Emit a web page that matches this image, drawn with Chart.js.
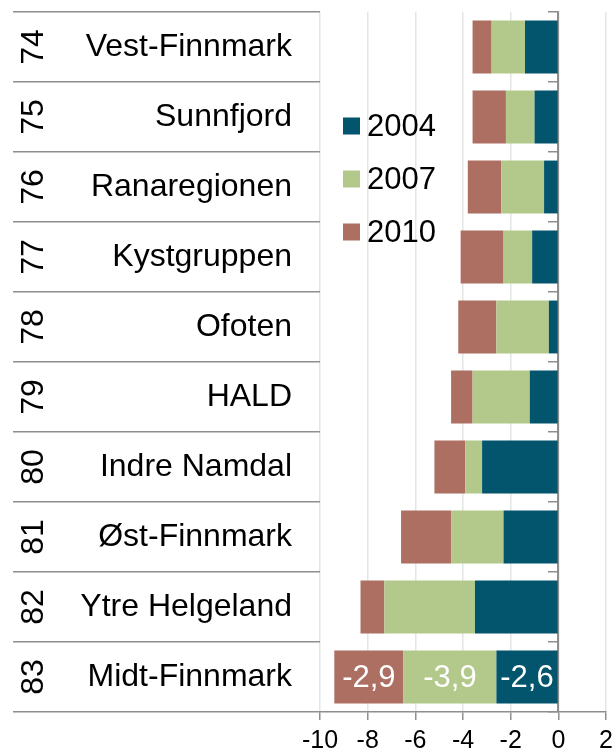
<!DOCTYPE html>
<html>
<head>
<meta charset="utf-8">
<script src="https://cdn.jsdelivr.net/npm/chart.js@4/dist/chart.umd.min.js"></script>
<style>
  html, body { margin: 0; padding: 0; background: #fff; }
  #wrap { width: 613px; height: 753px; position: relative; }
</style>
</head>
<body>
<div id="wrap"><canvas id="regions"></canvas></div>
<script>
const ranks = ['74', '75', '76', '77', '78', '79', '80', '81', '82', '83'];
const regions = ['Vest-Finnmark', 'Sunnfjord', 'Ranaregionen', 'Kystgruppen', 'Ofoten',
    'HALD', 'Indre Namdal', 'Øst-Finnmark', 'Ytre Helgeland', 'Midt-Finnmark'];
const years = ['2004', '2007', '2010'];
const v2004 = [-1.4, -1.0, -0.6, -1.1, -0.4, -1.2, -3.2, -2.3, -3.5, -2.6];
const v2007 = [-1.4, -1.2, -1.8, -1.2, -2.2, -2.4, -0.7, -2.2, -3.8, -3.9];
const v2010 = [-0.8, -1.4, -1.4, -1.8, -1.6, -0.9, -1.3, -2.1, -1.0, -2.9];
const xTicks = [-10, -8, -6, -4, -2, 0, 2];
const labelledRows = ['Midt-Finnmark'];

const font = 'Liberation Sans, Arial, sans-serif';
const gray = '#8e8e8e';

// rank numbers, rotated, in the left column
const rankColumn = {
    id: 'rankColumn',
    afterDraw(chart) {
        const ctx = chart.ctx;
        const y = chart.scales.y;
        ctx.save();
        ctx.font = '32px ' + font;
        ctx.fillStyle = '#000';
        ctx.textAlign = 'center';
        ctx.textBaseline = 'middle';
        ranks.forEach((r, i) => {
            ctx.save();
            ctx.translate(33, y.getPixelForTick(i));
            ctx.rotate(-Math.PI / 2);
            ctx.fillText(r, 0, 1);
            ctx.restore();
        });
        ctx.restore();
    }
};

// white values inside the bars of selected rows
const barValues = {
    id: 'barValues',
    afterDatasetsDraw(chart) {
        const ctx = chart.ctx;
        ctx.save();
        ctx.font = '31px ' + font;
        ctx.fillStyle = '#fff';
        ctx.textAlign = 'center';
        ctx.textBaseline = 'middle';
        chart.data.datasets.forEach((ds, d) => {
            const meta = chart.getDatasetMeta(d);
            labelledRows.forEach(name => {
                const i = regions.indexOf(name);
                const el = meta.data[i];
                const txt = ds.data[i].toFixed(1).replace('.', ',');
                ctx.fillText(txt, (el.x + el.base) / 2, el.y + 1);
            });
        });
        ctx.restore();
    }
};

// legend placed inside the plot
const insideLegend = {
    id: 'insideLegend',
    afterDraw(chart) {
        const ctx = chart.ctx;
        ctx.save();
        ctx.font = '31px ' + font;
        ctx.textAlign = 'left';
        ctx.textBaseline = 'middle';
        chart.data.datasets.forEach((ds, d) => {
            const cy = 126 + d * 53;
            ctx.fillStyle = ds.backgroundColor;
            ctx.fillRect(343, cy - 8.5, 17, 17);
            ctx.fillStyle = '#000';
            ctx.fillText(ds.label, 367, cy + 1);
        });
        ctx.restore();
    }
};

new Chart(document.getElementById('regions'), {
    type: 'bar',
    data: {
        labels: regions,
        datasets: [
            { label: years[0], data: v2004, backgroundColor: '#02556d' },
            { label: years[1], data: v2007, backgroundColor: '#b3c98b' },
            { label: years[2], data: v2010, backgroundColor: '#ae6f63' },
        ]
    },
    options: {
        indexAxis: 'y',
        responsive: true,
        maintainAspectRatio: false,
        animation: false,
        layout: { padding: { top: 12 } },
        datasets: { bar: { barPercentage: 0.755, categoryPercentage: 1 } },
        plugins: { legend: { display: false }, tooltip: { enabled: false } },
        scales: {
            x: {
                stacked: true,
                min: xTicks[0],
                max: xTicks[xTicks.length - 1],
                afterBuildTicks: s => { s.ticks = xTicks.map(v => ({ value: v })); },
                ticks: { font: { size: 25, family: font, lineHeight: 1.7 }, color: '#000', padding: 0 },
                grid: { color: '#e0e7e5', lineWidth: 1.5, tickColor: gray, tickLength: 8 },
                border: { color: gray, width: 1.5 },
                afterFit: s => { s.height = 41; }
            },
            y: {
                stacked: true,
                grid: { offset: true, drawOnChartArea: false, tickLength: 307, color: gray, lineWidth: 1.5 },
                border: { display: false },
                ticks: { padding: -279, font: { size: 32, family: font }, color: '#000', autoSkip: false },
                afterFit: s => { s.width = 320; }
            },
            y0: {
                type: 'category',
                labels: regions,
                position: { x: 0 },
                offset: true,
                grid: { offset: true, drawOnChartArea: false, tickLength: 9, color: gray, lineWidth: 1.5 },
                border: { color: gray, width: 2 },
                ticks: { display: false }
            }
        }
    },
    plugins: [rankColumn, barValues, insideLegend]
});
</script>
</body>
</html>
